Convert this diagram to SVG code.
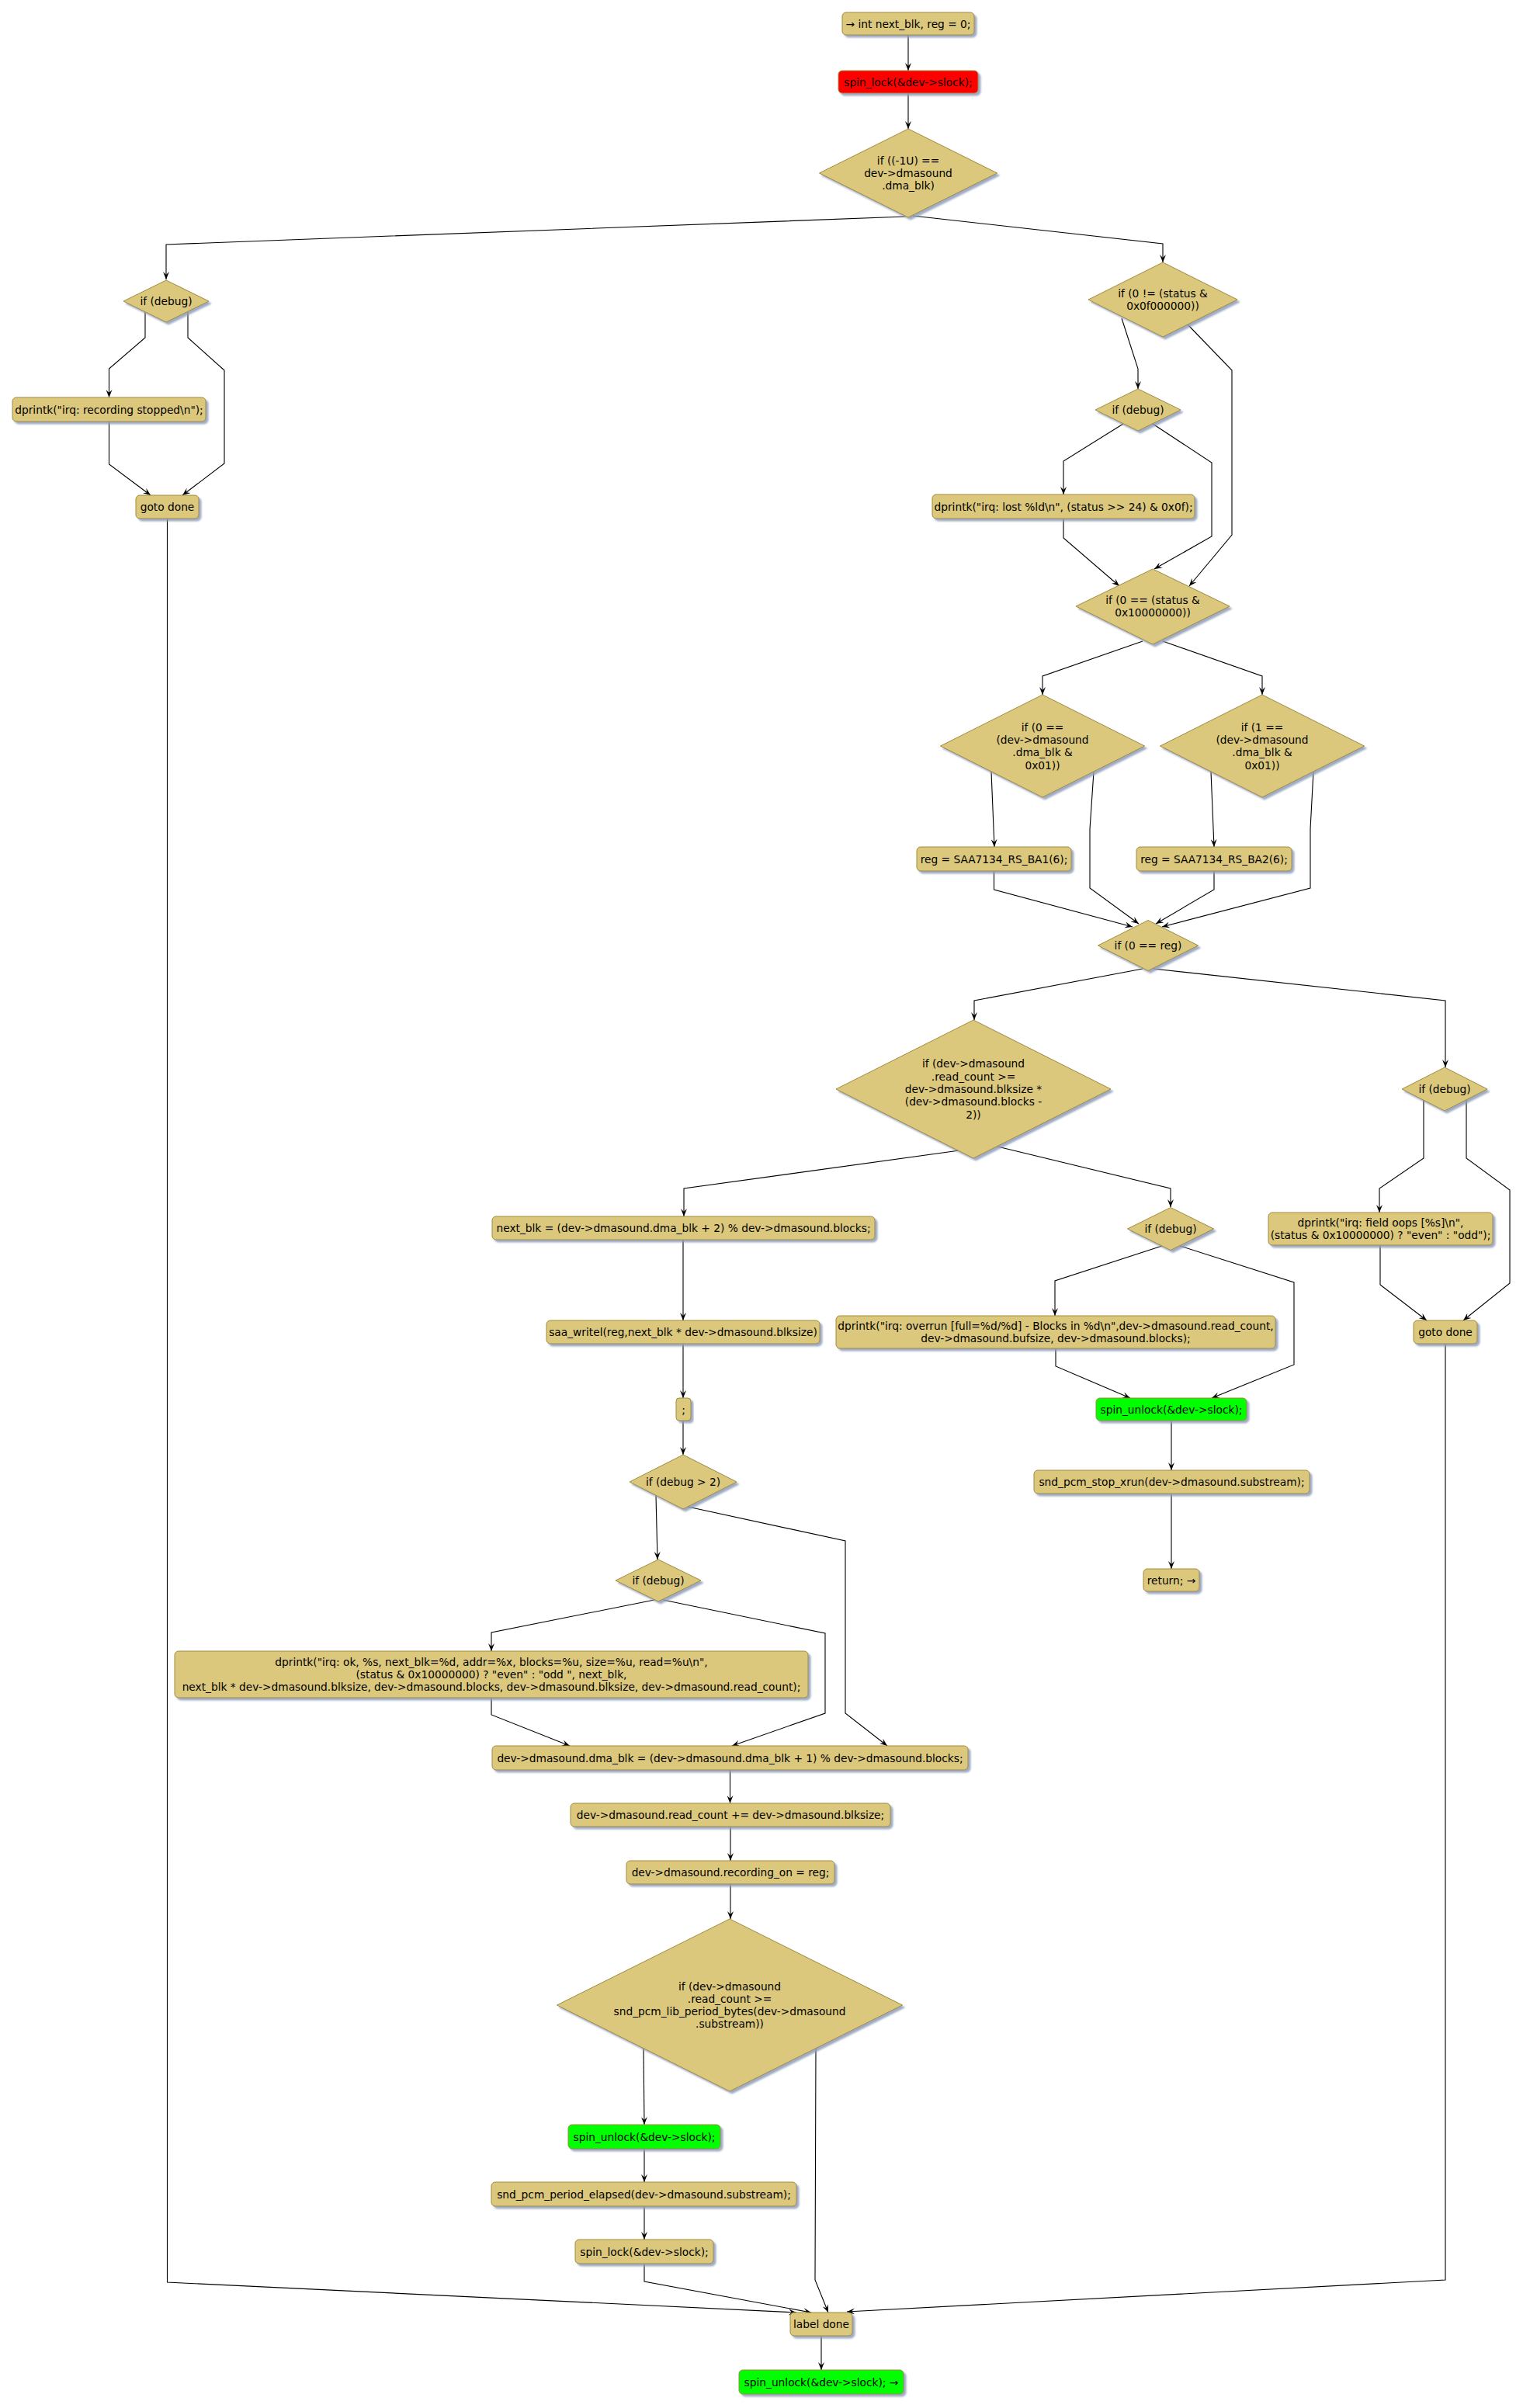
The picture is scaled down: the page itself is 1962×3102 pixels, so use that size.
<svg xmlns="http://www.w3.org/2000/svg" width="1962" height="3102" viewBox="0 0 1962 3102">
<style>
.n{fill:#DBC87B;stroke:#A08B3C;stroke-width:1;filter:url(#sh)}
.red{fill:#FF0000}
.grn{fill:#00FF00}
.t{font-family:"DejaVu Sans",sans-serif;font-size:13.75px;fill:#000;text-anchor:middle}
.c{fill:none;stroke:#000;stroke-width:1.1;marker-end:url(#ah)}
</style>
<defs>
<filter id="sh" x="-10%" y="-10%" width="130%" height="140%">
<feDropShadow dx="3" dy="3" stdDeviation="1" flood-color="#8E9DBA" flood-opacity="0.85"/>
</filter>
<marker id="ah" viewBox="0 0 10 8" refX="10" refY="4" markerWidth="10" markerHeight="8" markerUnits="userSpaceOnUse" orient="auto">
<path d="M0,0 L10,4 L0,8 L4,4 Z" fill="#000"/>
</marker>
</defs>
<rect width="1962" height="3102" fill="#FFFFFF"/>
<g id="connectors">
<polyline class="c" points="1170,45 1170,91"/>
<polyline class="c" points="1170,120 1170,166"/>
<polyline class="c" points="1166,279 214,315 214,360"/>
<polyline class="c" points="1176,278 1498,314 1498,338"/>
<polyline class="c" points="187,402 187,435 140.5,475 140.5,512"/>
<polyline class="c" points="242,402 242,435 289,477 289,597 235,638"/>
<polyline class="c" points="140.5,543 140.5,598 194,638"/>
<polyline class="c" points="215.5,668 215.5,2940 1026,2979"/>
<polyline class="c" points="1445,410 1466,475 1466,501"/>
<polyline class="c" points="1530,418 1587,477 1587,689 1532,755"/>
<polyline class="c" points="1447,546 1370,594 1370,637"/>
<polyline class="c" points="1485,546 1561,596 1561,691 1487,733"/>
<polyline class="c" points="1370,668 1370,693 1442,755"/>
<polyline class="c" points="1472,826 1343,871 1343,895"/>
<polyline class="c" points="1498,826 1626,871 1626,895"/>
<polyline class="c" points="1277,994 1281,1091"/>
<polyline class="c" points="1409,994 1404,1068 1404,1144 1467,1190"/>
<polyline class="c" points="1280.5,1122 1280.5,1146 1459,1194"/>
<polyline class="c" points="1560,994 1564,1091"/>
<polyline class="c" points="1564,1122 1564,1146 1489,1190"/>
<polyline class="c" points="1692,994 1688,1068 1688,1144 1497,1194"/>
<polyline class="c" points="1472,1248 1255,1289 1255,1314"/>
<polyline class="c" points="1486,1248 1862,1289 1862,1375"/>
<polyline class="c" points="1236,1482 881,1531 881,1567"/>
<polyline class="c" points="1285,1477 1508,1531 1508,1555"/>
<polyline class="c" points="1834,1417 1834,1492 1777,1531 1777,1562"/>
<polyline class="c" points="1889,1417 1889,1492 1945,1533 1945,1653 1885,1701"/>
<polyline class="c" points="1778,1604 1778,1655 1838,1701"/>
<polyline class="c" points="1862,1731 1862,2937 1091,2978"/>
<polyline class="c" points="1497,1605 1359,1650 1359,1695"/>
<polyline class="c" points="1520,1605 1667,1652 1667,1758 1561,1801"/>
<polyline class="c" points="1360,1737 1360,1760 1456,1801"/>
<polyline class="c" points="1509,1830 1509,1894"/>
<polyline class="c" points="1509,1924 1509,2021"/>
<polyline class="c" points="880,1597 880,1701"/>
<polyline class="c" points="880,1731 880,1801"/>
<polyline class="c" points="880,1830 880,1874"/>
<polyline class="c" points="845,1927 847,2009"/>
<polyline class="c" points="886,1941 1089,1985 1089,2207 1143,2249"/>
<polyline class="c" points="843,2061 633,2103 633,2127"/>
<polyline class="c" points="854,2061 1063,2104 1063,2207 943,2249"/>
<polyline class="c" points="633,2187 633,2209 734,2249"/>
<polyline class="c" points="940.5,2280 940.5,2323"/>
<polyline class="c" points="941,2353 941,2397"/>
<polyline class="c" points="941,2427 941,2472"/>
<polyline class="c" points="829,2638 830,2737"/>
<polyline class="c" points="1051,2638 1050,2937 1067,2979"/>
<polyline class="c" points="830,2768 830,2811"/>
<polyline class="c" points="830,2842 830,2885"/>
<polyline class="c" points="830,2916 830,2939 1045,2979"/>
<polyline class="c" points="1058,3009 1058,3053"/>
</g>
<g id="n1"><rect class="n" x="1085" y="16" width="170" height="29" rx="5"/><text class="t" x="1170" y="35.5">→ int next_blk, reg = 0;</text></g>
<g id="n2"><rect class="n red" x="1080" y="91" width="180" height="29" rx="5"/><text class="t" x="1170" y="110.5">spin_lock(&amp;dev-&gt;slock);</text></g>
<g id="n3"><polygon class="n" points="1170,166 1284.5,223 1170,280 1055.5,223"/><text class="t" x="1170" y="211.7">if ((-1U) ==</text><text class="t" x="1170" y="228">dev-&gt;dmasound</text><text class="t" x="1170" y="244.3">.dma_blk)</text></g>
<g id="n4"><polygon class="n" points="214,361 269,388 214,415 159,388"/><text class="t" x="214" y="393">if (debug)</text></g>
<g id="n5"><rect class="n" x="16" y="512" width="249" height="31" rx="5"/><text class="t" x="140.5" y="532.5">dprintk("irq: recording stopped\n");</text></g>
<g id="n6"><rect class="n" x="175" y="638" width="81" height="30" rx="5"/><text class="t" x="215.5" y="658">goto done</text></g>
<g id="n7"><polygon class="n" points="1498,338 1594,386 1498,434 1402,386"/><text class="t" x="1498" y="382.9">if (0 != (status &amp;</text><text class="t" x="1498" y="399.2">0x0f000000))</text></g>
<g id="n8"><polygon class="n" points="1466,501 1521,528 1466,555 1411,528"/><text class="t" x="1466" y="533">if (debug)</text></g>
<g id="n9"><rect class="n" x="1201" y="637" width="338" height="31" rx="5"/><text class="t" x="1370" y="657.5">dprintk("irq: lost %ld\n", (status &gt;&gt; 24) &amp; 0x0f);</text></g>
<g id="n10"><polygon class="n" points="1485,733 1584,781 1485,830 1386,781"/><text class="t" x="1485" y="777.9">if (0 == (status &amp;</text><text class="t" x="1485" y="794.2">0x10000000))</text></g>
<g id="n11"><polygon class="n" points="1343,895 1474.5,961 1343,1027 1211.5,961"/><text class="t" x="1343" y="941.6">if (0 ==</text><text class="t" x="1343" y="957.9">(dev-&gt;dmasound</text><text class="t" x="1343" y="974.2">.dma_blk &amp;</text><text class="t" x="1343" y="990.5">0x01))</text></g>
<g id="n12"><polygon class="n" points="1626,895 1757.5,961 1626,1027 1494.5,961"/><text class="t" x="1626" y="941.6">if (1 ==</text><text class="t" x="1626" y="957.9">(dev-&gt;dmasound</text><text class="t" x="1626" y="974.2">.dma_blk &amp;</text><text class="t" x="1626" y="990.5">0x01))</text></g>
<g id="n13"><rect class="n" x="1181" y="1091" width="199" height="31" rx="5"/><text class="t" x="1280.5" y="1111.5">reg = SAA7134_RS_BA1(6);</text></g>
<g id="n14"><rect class="n" x="1464" y="1091" width="200" height="31" rx="5"/><text class="t" x="1564" y="1111.5">reg = SAA7134_RS_BA2(6);</text></g>
<g id="n15"><polygon class="n" points="1479,1185.5 1543.5,1218 1479,1250.5 1414.5,1218"/><text class="t" x="1479" y="1223">if (0 == reg)</text></g>
<g id="n16"><polygon class="n" points="1254,1314 1431,1403 1254,1492 1077,1403"/><text class="t" x="1254" y="1375.4">if (dev-&gt;dmasound</text><text class="t" x="1254" y="1391.7">.read_count &gt;=</text><text class="t" x="1254" y="1408">dev-&gt;dmasound.blksize *</text><text class="t" x="1254" y="1424.3">(dev-&gt;dmasound.blocks -</text><text class="t" x="1254" y="1440.6">2))</text></g>
<g id="n17"><polygon class="n" points="1861,1375 1916,1403 1861,1431 1806,1403"/><text class="t" x="1861" y="1408">if (debug)</text></g>
<g id="n18"><rect class="n" x="1634" y="1562" width="289" height="42" rx="5"/><text class="t" x="1778.5" y="1579.85">dprintk("irq: field oops [%s]\n",</text><text class="t" x="1778.5" y="1596.15">(status &amp; 0x10000000) ? "even" : "odd");</text></g>
<g id="n19"><rect class="n" x="1821" y="1701" width="82" height="30" rx="5"/><text class="t" x="1862" y="1721">goto done</text></g>
<g id="n20"><rect class="n" x="634" y="1567" width="493" height="30" rx="5"/><text class="t" x="880.5" y="1587">next_blk = (dev-&gt;dmasound.dma_blk + 2) % dev-&gt;dmasound.blocks;</text></g>
<g id="n21"><polygon class="n" points="1508,1555.5 1563.5,1583 1508,1610.5 1452.5,1583"/><text class="t" x="1508" y="1588">if (debug)</text></g>
<g id="n22"><rect class="n" x="1077" y="1695" width="566" height="42" rx="5"/><text class="t" x="1360" y="1712.85">dprintk("irq: overrun [full=%d/%d] - Blocks in %d\n",dev-&gt;dmasound.read_count,</text><text class="t" x="1360" y="1729.15">dev-&gt;dmasound.bufsize, dev-&gt;dmasound.blocks);</text></g>
<g id="n23"><rect class="n grn" x="1412" y="1801" width="194" height="29" rx="5"/><text class="t" x="1509" y="1820.5">spin_unlock(&amp;dev-&gt;slock);</text></g>
<g id="n24"><rect class="n" x="1332" y="1894" width="355" height="30" rx="5"/><text class="t" x="1509.5" y="1914">snd_pcm_stop_xrun(dev-&gt;dmasound.substream);</text></g>
<g id="n25"><rect class="n" x="1473" y="2021" width="72" height="29" rx="5"/><text class="t" x="1509" y="2040.5">return; →</text></g>
<g id="n26"><rect class="n" x="704" y="1701" width="352" height="30" rx="5"/><text class="t" x="880" y="1721">saa_writel(reg,next_blk * dev-&gt;dmasound.blksize)</text></g>
<g id="n27"><rect class="n" x="871" y="1801" width="19" height="29" rx="4"/><text class="t" x="880.5" y="1820.5">;</text></g>
<g id="n28"><polygon class="n" points="880,1874 949,1909 880,1944 811,1909"/><text class="t" x="880" y="1914">if (debug &gt; 2)</text></g>
<g id="n29"><polygon class="n" points="848,2009 903,2036 848,2063 793,2036"/><text class="t" x="848" y="2041">if (debug)</text></g>
<g id="n30"><rect class="n" x="225" y="2127" width="816" height="60" rx="5"/><text class="t" x="633" y="2145.7">dprintk("irq: ok, %s, next_blk=%d, addr=%x, blocks=%u, size=%u, read=%u\n",</text><text class="t" x="633" y="2162">(status &amp; 0x10000000) ? "even" : "odd ", next_blk,</text><text class="t" x="633" y="2178.3">next_blk * dev-&gt;dmasound.blksize, dev-&gt;dmasound.blocks, dev-&gt;dmasound.blksize, dev-&gt;dmasound.read_count);</text></g>
<g id="n31"><rect class="n" x="634" y="2249" width="613" height="31" rx="5"/><text class="t" x="940.5" y="2269.5">dev-&gt;dmasound.dma_blk = (dev-&gt;dmasound.dma_blk + 1) % dev-&gt;dmasound.blocks;</text></g>
<g id="n32"><rect class="n" x="735" y="2323" width="412" height="30" rx="5"/><text class="t" x="941" y="2343">dev-&gt;dmasound.read_count += dev-&gt;dmasound.blksize;</text></g>
<g id="n33"><rect class="n" x="807" y="2397" width="268" height="30" rx="5"/><text class="t" x="941" y="2417">dev-&gt;dmasound.recording_on = reg;</text></g>
<g id="n34"><polygon class="n" points="940,2472 1162.5,2583 940,2694 717.5,2583"/><text class="t" x="940" y="2563.55">if (dev-&gt;dmasound</text><text class="t" x="940" y="2579.85">.read_count &gt;=</text><text class="t" x="940" y="2596.15">snd_pcm_lib_period_bytes(dev-&gt;dmasound</text><text class="t" x="940" y="2612.45">.substream))</text></g>
<g id="n35"><rect class="n grn" x="732" y="2737" width="196" height="31" rx="5"/><text class="t" x="830" y="2757.5">spin_unlock(&amp;dev-&gt;slock);</text></g>
<g id="n36"><rect class="n" x="633" y="2811" width="393" height="31" rx="5"/><text class="t" x="829.5" y="2831.5">snd_pcm_period_elapsed(dev-&gt;dmasound.substream);</text></g>
<g id="n37"><rect class="n" x="741" y="2885" width="178" height="31" rx="5"/><text class="t" x="830" y="2905.5">spin_lock(&amp;dev-&gt;slock);</text></g>
<g id="n38"><rect class="n" x="1018" y="2979" width="80" height="30" rx="5"/><text class="t" x="1058" y="2999">label done</text></g>
<g id="n39"><rect class="n grn" x="952" y="3053" width="212" height="31" rx="5"/><text class="t" x="1058" y="3073.5">spin_unlock(&amp;dev-&gt;slock); →</text></g>
</svg>
